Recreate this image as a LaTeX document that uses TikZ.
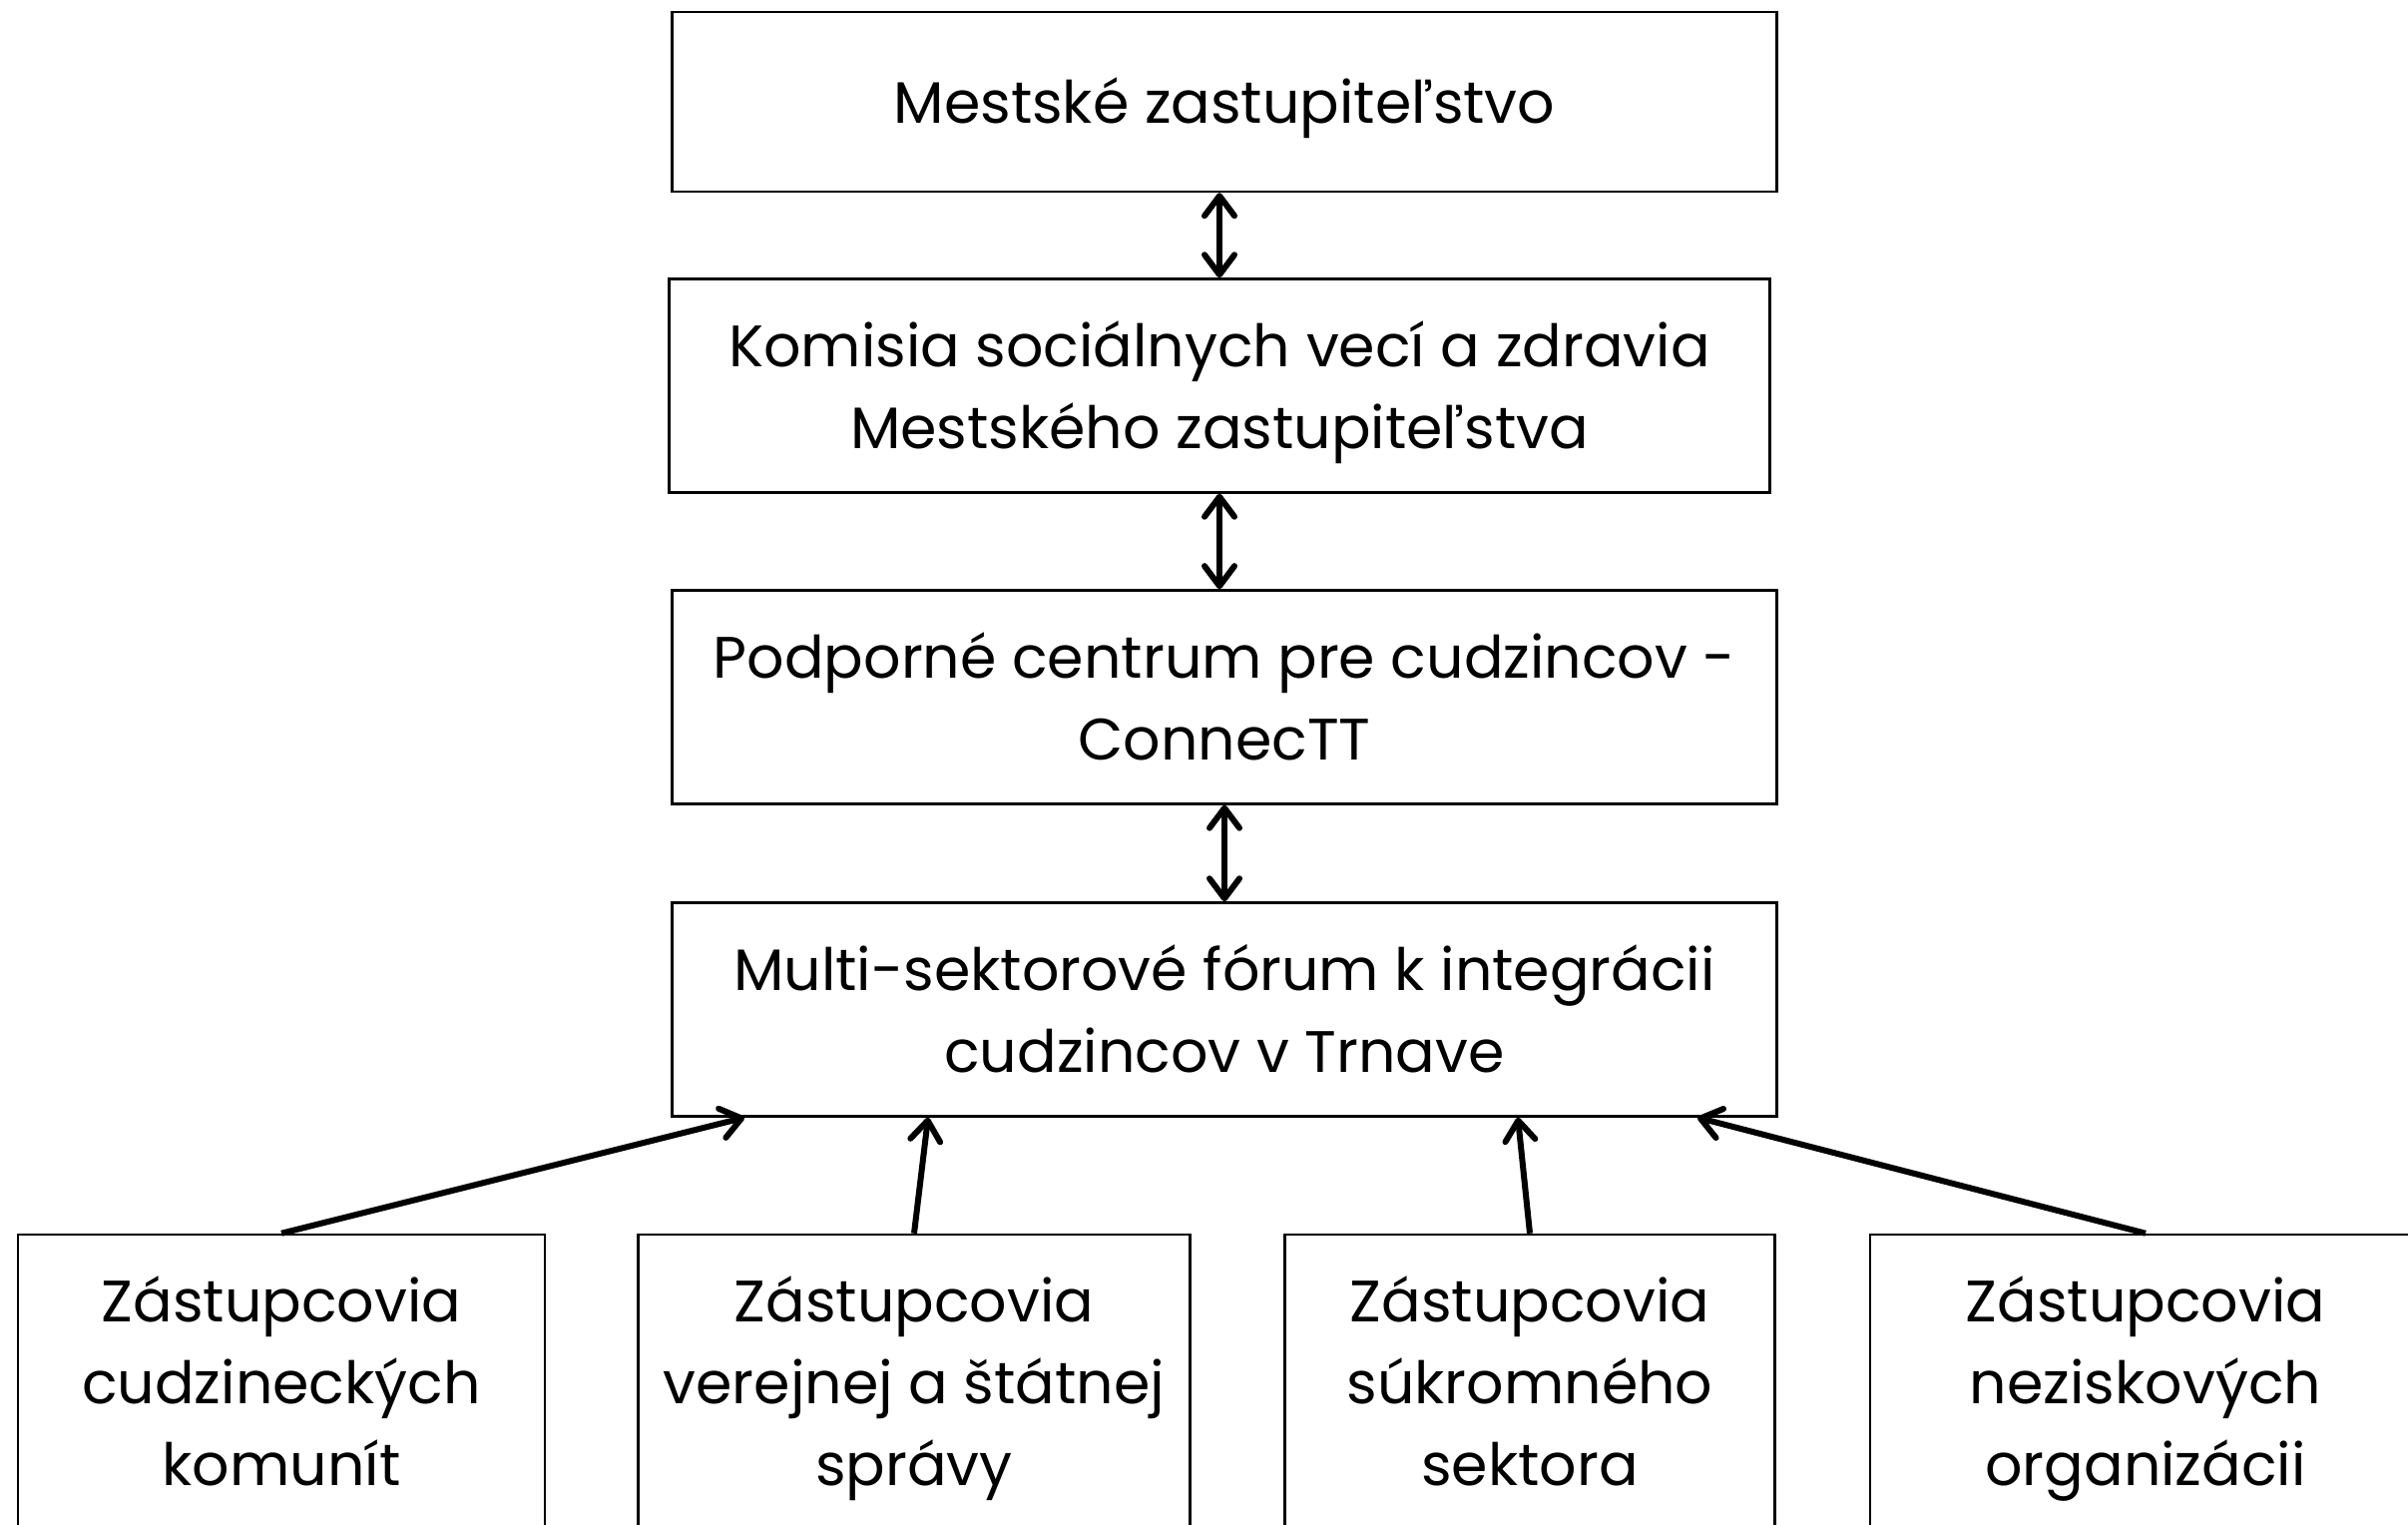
\documentclass[tikz,border=0pt]{standalone}
\usepackage{fontspec}
\setmainfont{Poppins}
\usepackage{tikz}
\usetikzlibrary {arrows.meta,
                 positioning,
                 calc}
\tikzset{
        base/.style={draw, line width=1.25pt, align=flush center, inner sep=0pt,
                     font=\fontsize{29.3}{41}\selectfont,
                     execute at begin node={\rule{0pt}{34pt}},
                     execute at end node=\strut},
        proc/.style={base, rectangle, minimum width=553.5pt, text width=553.5pt,
                     minimum height=107pt},
        rep/.style={base, rectangle, minimum width=#1, text width=#1,
                    minimum height=148pt},
        myarrow/.style={-{Straight Barb[round, length=10pt, width=15pt]}, line width=3pt},
        dblarrow/.style={{Straight Barb[round, length=10pt, width=15pt]}-{Straight Barb[round, length=10pt, width=15pt]}, line width=3pt},
 }
\begin{document}
\begin{tikzpicture}[x=0.5pt, y=0.5pt]
    \useasboundingbox (0,0) rectangle (2413,1527);
    \clip (0,0) rectangle (2413,1527);

    \node[proc, minimum height=90pt] (council) at (1227,1425) {Mestské zastupiteľstvo};
    \node[proc, minimum width=551.5pt, text width=551.5pt,
          below=42.5pt of council, xshift=-2.5pt] (commission)
        {Komisia sociálnych vecí a zdravia\\Mestského zastupiteľstva};
    \node[proc, below=47.7pt of commission, xshift=2.5pt] (centre)
        {Podporné centrum pre cudzincov -\\ConnecTT};
    \node[proc, below=48.3pt of centre] (forum)
        {Multi-sektorové fórum k integrácii\\cudzincov v Trnave};

    \node[rep=264pt] (rep1) at (282,142) {Zástupcovia\\cudzineckých\\komunít};
    \node[rep=276.5pt] (rep2) at (916,142) {Zástupcovia\\verejnej a štátnej\\správy};
    \node[rep=245.5pt] (rep3) at (1533,142) {Zástupcovia\\súkromného\\sektora};
    \node[rep=276pt] (rep4) at (2150,142) {Zástupcovia\\neziskových\\organizácii};

    \draw[dblarrow] (commission.north |- council.south) -- (commission.north);
    \draw[dblarrow] (commission.south) -- (commission.south |- centre.north);
    \draw[dblarrow] (centre.south) -- (forum.north);

    \draw[myarrow] (rep1.north) -- ($(forum.south)+(-481,0)$);
    \draw[myarrow] (rep2.north) -- ($(forum.south)+(-297,0)$);
    \draw[myarrow] (rep3.north) -- ($(forum.south)+(294,0)$);
    \draw[myarrow] (rep4.north) -- ($(forum.south)+(474,0)$);
\end{tikzpicture}
\end{document}
